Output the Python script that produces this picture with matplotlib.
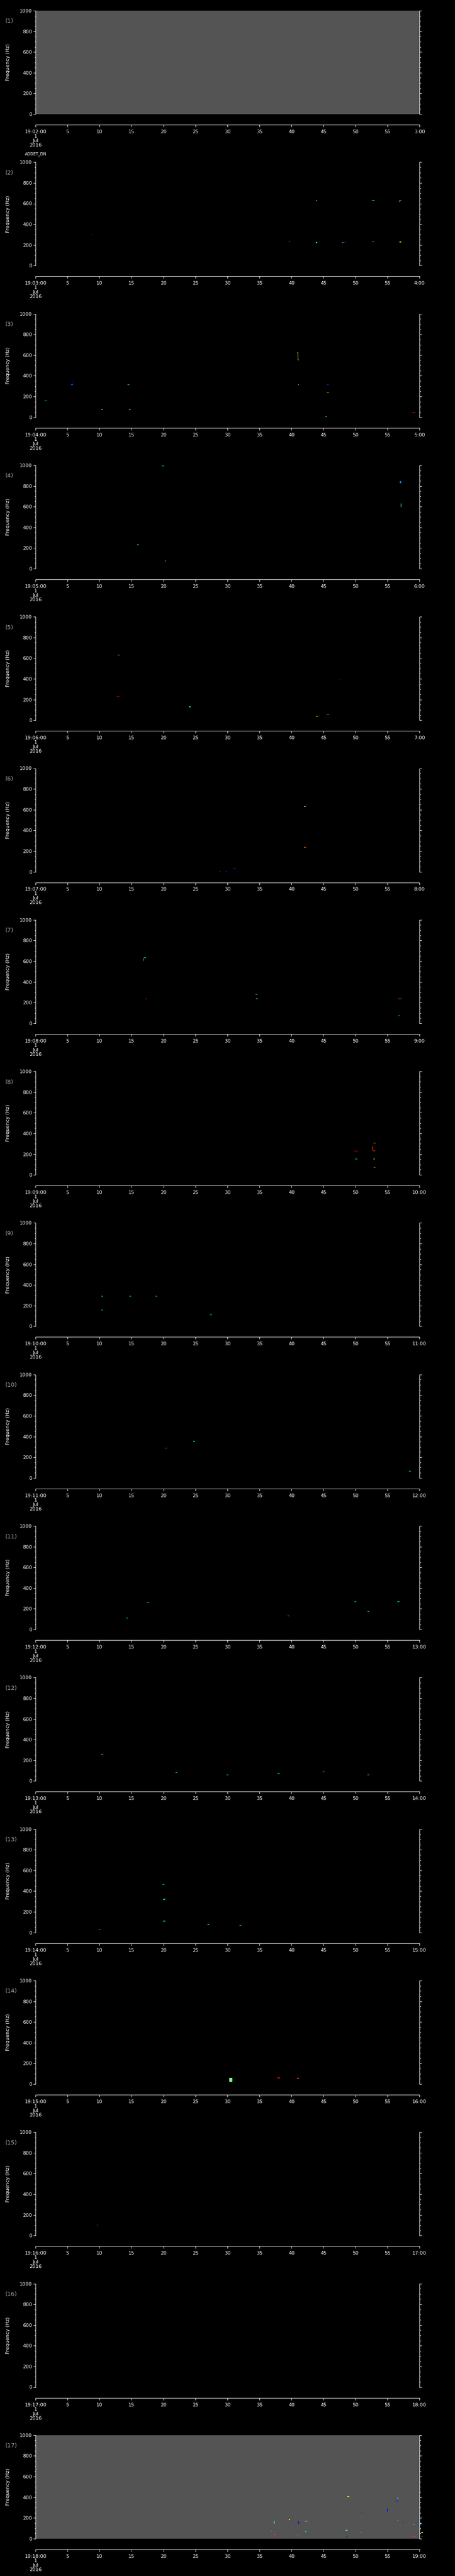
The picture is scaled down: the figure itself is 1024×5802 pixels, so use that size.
import numpy as np
import matplotlib
matplotlib.use("Agg")
import matplotlib.pyplot as plt
from matplotlib.ticker import MultipleLocator, FixedLocator

# each panel is one minute starting at 19:MM:00 on 1 Jul 2016
panel_minute = list(range(2, 19))
grey_panels = [1, 17]          # panels with no-data fill

# spectrogram blobs: panel, seconds into the minute, centre freq (Hz),
# duration (s), bandwidth (Hz), colour level 0..1
blob_panel = [2, 2, 2, 2, 2, 2, 2, 2, 2, 2, 2, 2,
              3, 3, 3, 3, 3, 3, 3, 3, 3, 3, 3, 3, 3, 3,
              4, 4, 4, 4, 4, 4, 4,
              5, 5, 5, 5, 5, 5, 5,
              6, 6, 6, 6, 6,
              7, 7, 7, 7, 7, 7, 7, 7,
              8, 8, 8, 8, 8, 8, 8,
              9, 9, 9, 9, 9,
              10, 10, 10,
              11, 11, 11, 11, 11, 11,
              12, 12, 12, 12, 12, 12,
              13, 13, 13, 13, 13, 13,
              14, 14, 14,
              15,
              17, 17, 17, 17, 17, 17, 17, 17, 17, 17, 17, 17, 17, 17, 17,
              17, 17, 17, 17, 17, 17, 17, 17, 17, 17, 17, 17, 17, 17]
blob_sec = [8.8, 26.2, 39.7, 43.9, 43.9, 48.0, 48.4, 52.8, 52.8, 57.0, 56.9, 57.0,
            5.7, 5.95, 14.5, 1.6, 10.4, 14.7, 41.0, 41.0, 41.1, 41.1, 45.7, 45.7, 45.4, 59.1,
            19.9, 16.0, 20.3, 57.0, 57.1, 56.9, 57.1,
            13.0, 12.9, 24.1, 47.4, 47.6, 44.0, 45.7,
            42.1, 42.1, 31.1, 28.8, 29.8,
            16.9, 17.1, 16.9, 17.2, 34.5, 34.6, 56.9, 56.8,
            53.0, 52.7, 52.9, 50.1, 50.1, 52.9, 53.0,
            10.4, 14.8, 18.9, 27.4, 10.4,
            20.4, 24.8, 58.5,
            17.6, 14.3, 50.0, 52.0, 56.7, 39.5,
            10.4, 22.0, 30.0, 38.0, 45.0, 52.0,
            20.0, 20.1, 20.1, 10.0, 27.0, 32.0,
            30.5, 38.0, 41.0,
            9.7,
            48.9, 56.5, 56.6, 51.0, 55.0, 60.2, 56.6, 57.4, 59.1, 39.7, 39.9, 37.3, 41.1, 42.3, 35.7,
            36.9, 37.4, 39.7, 40.2, 41.0, 42.2, 44.4, 48.6, 48.7, 50.9, 54.8, 59.2, 60.4, 60.4]
blob_hz = [300, 37, 232, 630, 224, 222, 226, 630, 232, 630, 620, 230,
           313, 332, 313, 159, 73, 73, 590, 628, 553, 313, 313, 236, 4, 43,
           994, 231, 73, 840, 830, 637, 615,
           630, 231, 131, 390, 397, 39, 56,
           630, 236, 30, 3, 3,
           615, 634, 600, 236, 279, 236, 236, 73,
           309, 253, 232, 231, 154, 154, 73,
           290, 290, 290, 110, 160,
           290, 355, 65,
           260, 110, 270, 175, 270, 130,
           255, 80, 60, 70, 90, 60,
           465, 320, 110, 30, 80, 70,
           40, 60, 55,
           103,
           407, 368, 390, 252, 275, 145, 172, 159, 136, 185, 172, 158, 155, 168, 63,
           73, 39, 39, 17, 32, 66, 56, 80, 20, 60, 39, 20, 58, 20]
blob_dur = [0.2, 0.15, 0.2, 0.2, 0.2, 0.2, 0.25, 0.4, 0.4, 0.3, 0.1, 0.25,
            0.3, 0.08, 0.3, 0.4, 0.3, 0.3, 0.1, 0.15, 0.15, 0.15, 0.3, 0.25, 0.3, 0.45,
            0.3, 0.25, 0.2, 0.15, 0.25, 0.2, 0.1,
            0.3, 0.45, 0.3, 0.1, 0.1, 0.35, 0.45,
            0.3, 0.35, 0.4, 0.3, 0.3,
            0.08, 0.2, 0.1, 0.3, 0.3, 0.25, 0.45, 0.3,
            0.45, 0.08, 0.3, 0.45, 0.3, 0.3, 0.3,
            0.3, 0.3, 0.3, 0.3, 0.3,
            0.3, 0.3, 0.3,
            0.3, 0.3, 0.3, 0.3, 0.3, 0.3,
            0.3, 0.3, 0.3, 0.3, 0.3, 0.3,
            0.3, 0.3, 0.3, 0.3, 0.3, 0.3,
            0.5, 0.4, 0.4,
            0.2,
            0.25, 0.1, 0.15, 0.15, 0.1, 0.3, 0.12, 0.15, 0.25, 0.2, 0.1, 0.1, 0.1, 0.45, 0.15,
            0.12, 0.4, 0.35, 0.15, 0.12, 0.15, 0.25, 0.25, 0.25, 0.1, 0.15, 0.5, 0.25, 0.15]
blob_bw = [5, 5, 5, 5, 12, 5, 5, 5, 5, 5, 12, 8,
           5, 38, 5, 5, 5, 5, 80, 5, 5, 5, 5, 5, 5, 5,
           6, 5, 5, 18, 5, 5, 35,
           5, 5, 8, 15, 8, 5, 5,
           5, 5, 5, 5, 5,
           35, 5, 8, 5, 6, 5, 5, 5,
           5, 35, 8, 5, 5, 5, 5,
           5, 5, 5, 5, 5,
           5, 5, 5,
           5, 5, 5, 5, 5, 5,
           5, 5, 5, 5, 5, 5,
           5, 5, 5, 5, 5, 5,
           40, 10, 10,
           5,
           6, 45, 5, 5, 30, 20, 5, 5, 5, 8, 15, 25, 25, 5, 8,
           5, 8, 5, 5, 5, 8, 6, 8, 5, 5, 5, 5, 10, 5]
blob_level = [0.15, 0.12, 0.3, 0.45, 0.35, 0.5, 0.15, 0.38, 0.8, 0.75, 0.6, 0.62,
              0.3, 0.08, 0.4, 0.3, 0.55, 0.5, 0.62, 0.75, 0.45, 0.68, 0.18, 0.68, 0.35, 0.85,
              0.35, 0.35, 0.35, 0.25, 0.35, 0.1, 0.45,
              0.6, 0.95, 0.35, 0.9, 0.15, 0.7, 0.3,
              0.55, 0.8, 0.2, 0.15, 0.15,
              0.75, 0.35, 0.12, 0.92, 0.38, 0.5, 0.85, 0.3,
              0.7, 0.78, 0.9, 0.9, 0.38, 0.55, 0.8,
              0.35, 0.35, 0.35, 0.35, 0.35,
              0.35, 0.35, 0.35,
              0.35, 0.35, 0.35, 0.35, 0.35, 0.35,
              0.35, 0.35, 0.35, 0.35, 0.35, 0.35,
              0.35, 0.35, 0.35, 0.35, 0.35, 0.35,
              0.5, 0.9, 0.85,
              0.9,
              0.6, 0.15, 0.4, 0.15, 0.15, 0.25, 0.38, 0.15, 0.35, 0.65, 0.15, 0.38, 0.12, 0.58, 0.9,
              0.38, 0.85, 0.9, 0.2, 0.38, 0.38, 0.25, 0.45, 0.15, 0.75, 0.38, 0.85, 0.65, 0.8]

W, H = 1024, 5802
DPI = 72
fig = plt.figure(figsize=(W / DPI, H / DPI), dpi=DPI, facecolor="black")
cmap = plt.get_cmap("jet")

sec = np.array(blob_sec)
hz = np.array(blob_hz, dtype=float)
dur = np.array(blob_dur)
bw = np.array(blob_bw, dtype=float)
lev = np.array(blob_level)
pan = np.array(blob_panel)

for i, mm in enumerate(panel_minute):
    k = i + 1
    top = 24 + i * 341.3
    ax = fig.add_axes([80 / W, 1 - (top + 233) / H, 864 / W, 233 / H])
    ax.set_facecolor("#545454" if k in grey_panels else "black")
    ax.set_xlim(0, 60)
    ax.set_ylim(0, 1000)

    sel = pan == k
    if sel.any():
        ax.bar(sec[sel], bw[sel], width=dur[sel], bottom=hz[sel] - bw[sel] / 2,
               color=cmap(lev[sel]), linewidth=0, antialiased=False, clip_on=False)

    for s in ["left", "right", "bottom"]:
        ax.spines[s].set_color("white")
        ax.spines[s].set_linewidth(1)
    ax.spines["top"].set_visible(False)
    ax.spines["bottom"].set_position(("outward", 24))

    ax.yaxis.set_major_locator(MultipleLocator(200))
    ax.yaxis.set_minor_locator(MultipleLocator(50))
    ax.tick_params(axis="y", which="both", left=True, right=True, direction="out",
                   colors="white", labelsize=11, pad=3)
    ax.tick_params(axis="y", which="major", length=5, width=1)
    ax.tick_params(axis="y", which="minor", length=2.5, width=1)

    ticks = np.arange(0, 61, 5)
    labels = ["19:%02d:00\n1\nJul\n2016" % mm] + [str(t) for t in ticks[1:-1]] + ["%d:00" % (mm + 1)]
    ax.xaxis.set_major_locator(FixedLocator(ticks))
    ax.set_xticklabels(labels, linespacing=1.0)
    ax.tick_params(axis="x", direction="out", length=5, width=1, colors="white",
                   labelsize=11, pad=6)

    ax.set_ylabel("Frequency (Hz)", color="white", fontsize=11, labelpad=14)
    ax.yaxis.set_label_coords(-57 / 864, 0.5)

    fig.text(12 / W, 1 - (top + 24) / H, "(%d)" % k, color="#aaaaaa",
             fontsize=13, ha="left", va="center")

fig.text(80 / W, 1 - 347 / H, "ADDET_DN", color="white", fontsize=9,
         ha="center", va="center")

fig.savefig("out.png", dpi=DPI, facecolor="black")
